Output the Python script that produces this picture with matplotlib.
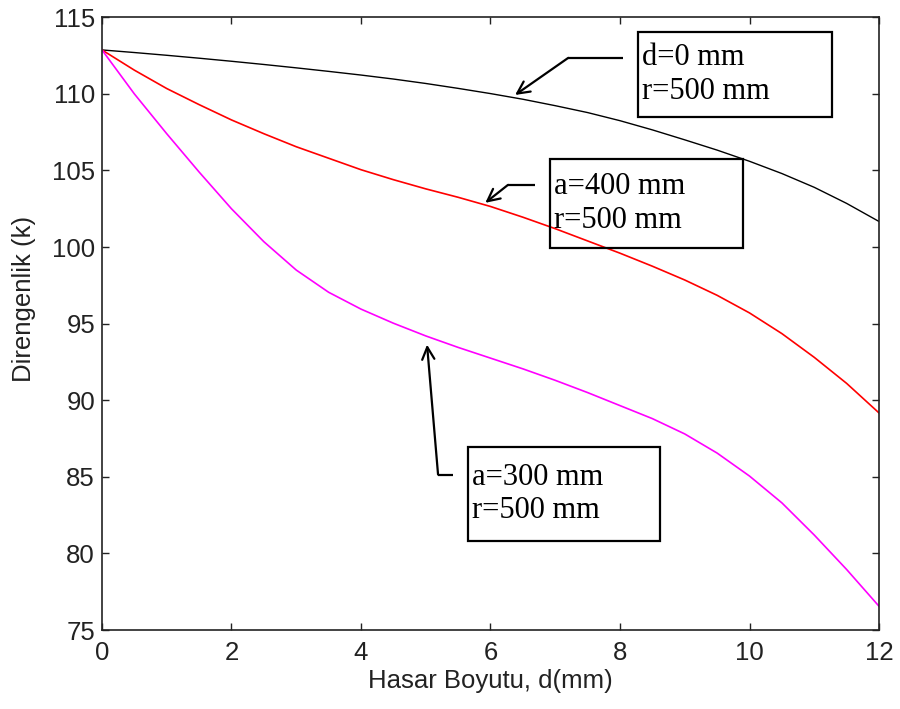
import matplotlib
matplotlib.use("Agg")
import matplotlib.pyplot as plt
from matplotlib.patches import Rectangle

# =========================
# 1. DATA
# =========================
d_mm = [0, 0.5, 1, 1.5, 2, 2.5, 3, 3.5, 4, 4.5, 5, 5.5, 6,
        6.5, 7, 7.5, 8, 8.5, 9, 9.5, 10, 10.5, 11, 11.5, 12]

k_d0 = [112.87, 112.7, 112.52, 112.33, 112.13, 111.92, 111.7, 111.47, 111.23,
        110.97, 110.68, 110.36, 110.02, 109.65, 109.23, 108.78, 108.25, 107.65,
        107.0, 106.33, 105.6, 104.8, 103.9, 102.85, 101.67]

k_a400 = [112.87, 111.55, 110.35, 109.3, 108.3, 107.4, 106.55, 105.8, 105.05,
          104.4, 103.8, 103.25, 102.65, 101.95, 101.2, 100.4, 99.6, 98.75,
          97.85, 96.85, 95.7, 94.35, 92.8, 91.1, 89.17]

k_a300 = [112.87, 110.0, 107.4, 104.9, 102.5, 100.35, 98.5, 97.05, 95.95,
          95.03, 94.2, 93.45, 92.75, 92.05, 91.3, 90.5, 89.65, 88.8,
          87.8, 86.55, 85.05, 83.3, 81.2, 78.95, 76.55]

x_ticks = [0, 2, 4, 6, 8, 10, 12]
y_ticks = [75, 80, 85, 90, 95, 100, 105, 110, 115]

labels = ["d=0 mm\nr=500 mm", "a=400 mm\nr=500 mm", "a=300 mm\nr=500 mm"]

# =========================
# 2. ANNOTATION LAYOUT (data coords)
# =========================
# box: (x0, y0, x1, y1); arrow: start -> bend -> tip
boxes = [(8.28, 108.5, 11.27, 114.04),
         (6.92, 99.95, 9.90, 105.76),
         (5.65, 80.78, 8.62, 86.97)]
arrows = [((8.05, 112.35), (7.20, 112.35), (6.38, 109.93)),
          ((6.69, 104.06), (6.27, 104.06), (5.92, 102.89)),
          ((5.42, 85.15), (5.19, 85.15), (5.02, 93.63))]

# =========================
# 3. PLOT
# =========================
fig = plt.figure(figsize=(9, 7.09), dpi=100)
ax = fig.add_axes([0.1133, 0.1114, 0.8634, 0.8642])

ax.plot(d_mm, k_d0, color='black', linewidth=1.0)
ax.plot(d_mm, k_a400, color='#ff0000', linewidth=1.2)
ax.plot(d_mm, k_a300, color='#ff00ff', linewidth=1.2)

ax.set_xlim(0, 12)
ax.set_ylim(75, 115)
ax.set_xticks(x_ticks)
ax.set_yticks(y_ticks)

tick_font = dict(family=['Liberation Sans', 'DejaVu Sans'], size=18.5)
ax.set_xticklabels([str(t) for t in x_ticks], **tick_font)
ax.set_yticklabels([str(t) for t in y_ticks], **tick_font)
ax.tick_params(direction='in', top=True, right=True, length=5, width=1.0,
               color='#222222', labelcolor='#222222')
ax.tick_params(axis='x', pad=8)
ax.tick_params(axis='y', pad=5)
for sp in ax.spines.values():
    sp.set_linewidth(1.2)
    sp.set_color('#222222')

ax.set_xlabel('Hasar Boyutu, d(mm)', family=['Liberation Sans', 'DejaVu Sans'],
              size=18.5, labelpad=3, color='#222222')
ax.set_ylabel('Direngenlik (k)', family=['Liberation Sans', 'DejaVu Sans'],
              size=18.5, labelpad=9, color='#222222')
ax.yaxis.set_label_coords(-0.085, 0.54)

# --- annotation boxes ---
for (x0, y0, x1, y1), txt in zip(boxes, labels):
    ax.add_patch(Rectangle((x0, y0), x1 - x0, y1 - y0, fill=False,
                           edgecolor='black', linewidth=1.6, zorder=5))
    ax.text(x0 + 0.06, (y0 + y1) / 2, txt, ha='left', va='center',
            family=['Liberation Serif', 'DejaVu Serif'], size=22,
            linespacing=1.2, zorder=6)

# --- arrows ---
for start, bend, tip in arrows:
    ax.plot([start[0], bend[0]], [start[1], bend[1]], color='black',
            linewidth=1.6, solid_capstyle='butt', zorder=6)
    ax.annotate('', xy=tip, xytext=bend,
                arrowprops=dict(arrowstyle='->', color='black', lw=1.6,
                                shrinkA=0, shrinkB=0, mutation_scale=22),
                zorder=6)

fig.savefig('out.png', dpi=100)
